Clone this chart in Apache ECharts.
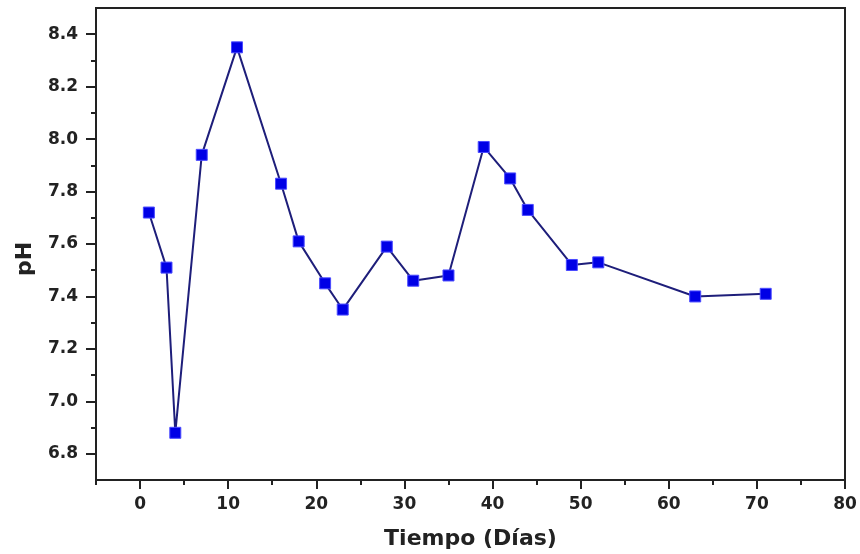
<!DOCTYPE html>
<html>
<head>
<meta charset="utf-8">
<script src="https://cdn.jsdelivr.net/npm/echarts@6/dist/echarts.min.js"></script>
<style>html,body{margin:0;padding:0;background:#fff}#c{width:860px;height:554px}</style>
</head>
<body>
<div id="c"></div>
<script>
var days = [1, 3, 4, 7, 11, 16, 18, 21, 23, 28, 31, 35, 39, 42, 44, 49, 52, 63, 71];
var phValues = [7.72, 7.51, 6.88, 7.94, 8.35, 7.83, 7.61, 7.45, 7.35, 7.59, 7.46, 7.48, 7.97, 7.85, 7.73, 7.52, 7.53, 7.40, 7.41];
var xTicks = [0, 10, 20, 30, 40, 50, 60, 70, 80];
var xMinorTicks = [-5, 5, 15, 25, 35, 45, 55, 65, 75];
var yTicks = [6.8, 7.0, 7.2, 7.4, 7.6, 7.8, 8.0, 8.2, 8.4];
var yMinorTicks = [6.9, 7.1, 7.3, 7.5, 7.7, 7.9, 8.1, 8.3];
var xTitle = 'Tiempo (Días)';
var yTitle = 'pH';

var points = days.map(function (d, i) { return [d, phValues[i]]; });
var font = 'DejaVu Sans';
var axisCol = '#222';

var chart = echarts.init(document.getElementById('c'), null, {renderer: 'canvas'});
chart.setOption({
  animation: false,
  backgroundColor: '#fff',
  grid: {left: 96, right: 15, top: 8, bottom: 74, show: true, borderColor: axisCol, borderWidth: 2,
    containLabel: false, outerBoundsMode: 'none'},
  xAxis: [{
    type: 'value', min: -5, max: 80, position: 'bottom',
    name: xTitle, nameLocation: 'middle', nameGap: 48,
    nameTextStyle: {fontFamily: font, fontWeight: 'bold', fontSize: 22, color: '#222'},
    axisLine: {show: true, onZero: false, lineStyle: {color: axisCol, width: 2}},
    axisTick: {show: true, inside: false, length: 9, lineStyle: {color: axisCol, width: 2}, customValues: xTicks},
    axisLabel: {show: true, margin: 16, fontFamily: font, fontWeight: 'bold', fontSize: 17, color: '#222', customValues: xTicks},
    splitLine: {show: false}
  }, {
    type: 'value', min: -5, max: 80, position: 'bottom',
    axisLine: {show: false, onZero: false},
    axisTick: {show: true, inside: false, length: 5, lineStyle: {color: axisCol, width: 2}, customValues: xMinorTicks},
    axisLabel: {show: false},
    splitLine: {show: false}
  }],
  yAxis: [{
    type: 'value', min: 6.7, max: 8.5, position: 'left',
    name: yTitle, nameLocation: 'middle', nameGap: 60,
    nameTextStyle: {fontFamily: font, fontWeight: 'bold', fontSize: 22, color: '#222', padding: [0, 30, 0, 0]},
    axisLine: {show: true, onZero: false, lineStyle: {color: axisCol, width: 2}},
    axisTick: {show: true, inside: false, length: 10, lineStyle: {color: axisCol, width: 2}, customValues: yTicks},
    axisLabel: {show: true, margin: 18, fontFamily: font, fontWeight: 'bold', fontSize: 17, color: '#222', customValues: yTicks,
      formatter: function (v) { return Number(v).toFixed(1); }},
    splitLine: {show: false}
  }, {
    type: 'value', min: 6.7, max: 8.5, position: 'left',
    axisLine: {show: false, onZero: false},
    axisTick: {show: true, inside: false, length: 5, lineStyle: {color: axisCol, width: 2}, customValues: yMinorTicks},
    axisLabel: {show: false},
    splitLine: {show: false}
  }],
  series: [{
    type: 'line',
    xAxisIndex: 0, yAxisIndex: 0,
    data: points,
    symbol: 'rect', symbolSize: 11,
    itemStyle: {color: '#0000e6', borderColor: '#4a4aff', borderWidth: 1},
    lineStyle: {color: '#1e1e7a', width: 2},
    z: 3
  }]
});
</script>
</body>
</html>
